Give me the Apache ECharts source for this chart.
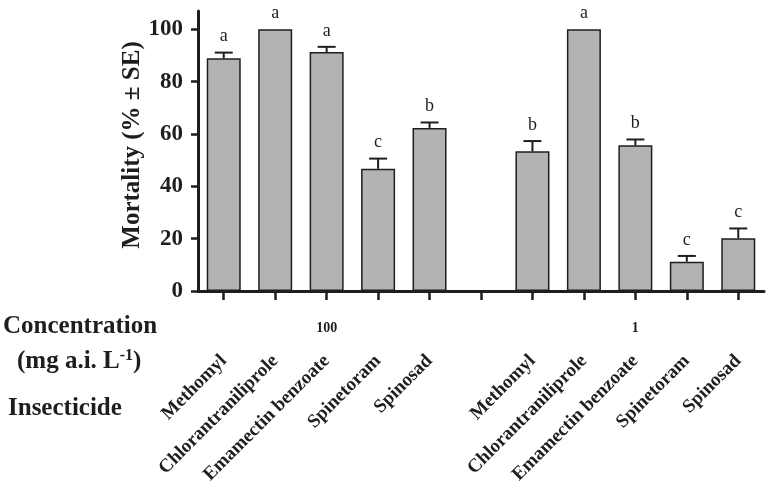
<!DOCTYPE html>
<html>
<head>
<meta charset="utf-8">
<script src="https://cdn.jsdelivr.net/npm/echarts@6/dist/echarts.min.js"></script>
<style>html,body{margin:0;padding:0;background:#fff}#c{width:768px;height:488px}</style>
</head>
<body>
<div id="c"></div>
<script>
var categories = ['Methomyl','Chlorantraniliprole','Emamectin benzoate','Spinetoram','Spinosad','',
                  'Methomyl','Chlorantraniliprole','Emamectin benzoate','Spinetoram','Spinosad'];
var concLabels = ['','','100','','','','','','1','',''];
var mortality = [88.9, 100, 91.3, 46.7, 62.3, null, 53.4, 100, 55.7, 11.2, 20.2];
var se        = [2.2, 0, 2.0, 3.9, 2.1, null, 3.9, 0, 2.2, 2.2, 3.7];
var letters   = ['a','a','a','c','b','', 'b','a','b','c','c'];
var yTicks = [0, 20, 40, 60, 80, 100];

var serif = "'Liberation Serif','Times New Roman',serif";
var ink = '#1e1e1e';

var chart = echarts.init(document.getElementById('c'), null, {renderer:'canvas'});
var errData = mortality.map(function(v, i){ return v == null ? null : [i, v, se[i], letters[i]]; });

chart.setOption({
  animation: false,
  grid: {left: 198, right: 4, top: 11, bottom: 197, containLabel: false},
  xAxis: [{
    type: 'category', data: categories, position: 'bottom',
    boundaryGap: true,
    axisLine: {show: true, lineStyle: {color: ink, width: 3}},
    axisTick: {show: true, interval: 0, alignWithLabel: true, length: 9, lineStyle: {color: ink, width: 2.5}},
    axisLabel: {interval: 0, rotate: 45, margin: 67, fontFamily: serif, fontWeight: 'bold', fontSize: 19, color: ink}
  }, {
    type: 'category', data: concLabels, position: 'bottom',
    boundaryGap: true,
    axisLine: {show: false}, axisTick: {show: false},
    axisLabel: {interval: 0, margin: 30, fontFamily: serif, fontWeight: 'bold', fontSize: 14, color: ink}
  }],
  yAxis: {
    type: 'value', min: 0, max: 107,
    splitLine: {show: false},
    axisLine: {show: true, lineStyle: {color: ink, width: 3}},
    axisTick: {show: true, length: 7, customValues: yTicks, lineStyle: {color: ink, width: 2.5}},
    axisLabel: {customValues: yTicks, margin: 15, fontFamily: serif, fontWeight: 'bold', fontSize: 23, color: ink},
    name: 'Mortality (% \u00B1 SE)', nameLocation: 'middle', nameGap: 53, nameMoveOverlap: false,
    nameTextStyle: {fontFamily: serif, fontWeight: 'bold', fontSize: 25, color: ink, padding: [0, 0, 0, 12]}
  },
  series: [{
    type: 'bar', data: mortality, barWidth: 34, xAxisIndex: 0,
    itemStyle: {color: '#b3b3b3', borderColor: ink, borderWidth: 1.5}
  }, {
    type: 'custom', xAxisIndex: 0, data: errData, z: 5,
    renderItem: function(params, api){
      var i = api.value(0), v = api.value(1), e = api.value(2);
      var letter = letters[i];
      var p0 = api.coord([i, v]);
      var p1 = api.coord([i, v + e]);
      var children = [];
      if (e > 0) {
        children.push({type:'line', shape:{x1:p0[0], y1:p0[1], x2:p1[0], y2:p1[1]}, style:{stroke:ink, lineWidth:2}});
        children.push({type:'line', shape:{x1:p1[0]-9, y1:p1[1], x2:p1[0]+9, y2:p1[1]}, style:{stroke:ink, lineWidth:2}});
      }
      children.push({type:'text', x:p1[0], y:p1[1]-7, style:{text: letter, fill: ink, font: '18px ' + serif, align:'center', verticalAlign:'bottom'}});
      return {type:'group', children: children};
    }
  }],
  graphic: [
    {type:'text', left: 3, top: 314, style:{text:'Concentration', fill: ink, font:'bold 25px ' + serif}},
    {type:'text', left: 17, top: 348, style:{text:'(mg a.i. L{s|-1})', fill: ink, font:'bold 25px ' + serif,
      rich:{s:{fontSize: 16, fontWeight:'bold', fontFamily: serif, verticalAlign:'top', padding:[0,0,12,0]}}}},
    {type:'text', left: 8, top: 396, style:{text:'Insecticide', fill: ink, font:'bold 25px ' + serif}}
  ]
});
</script>
</body>
</html>
